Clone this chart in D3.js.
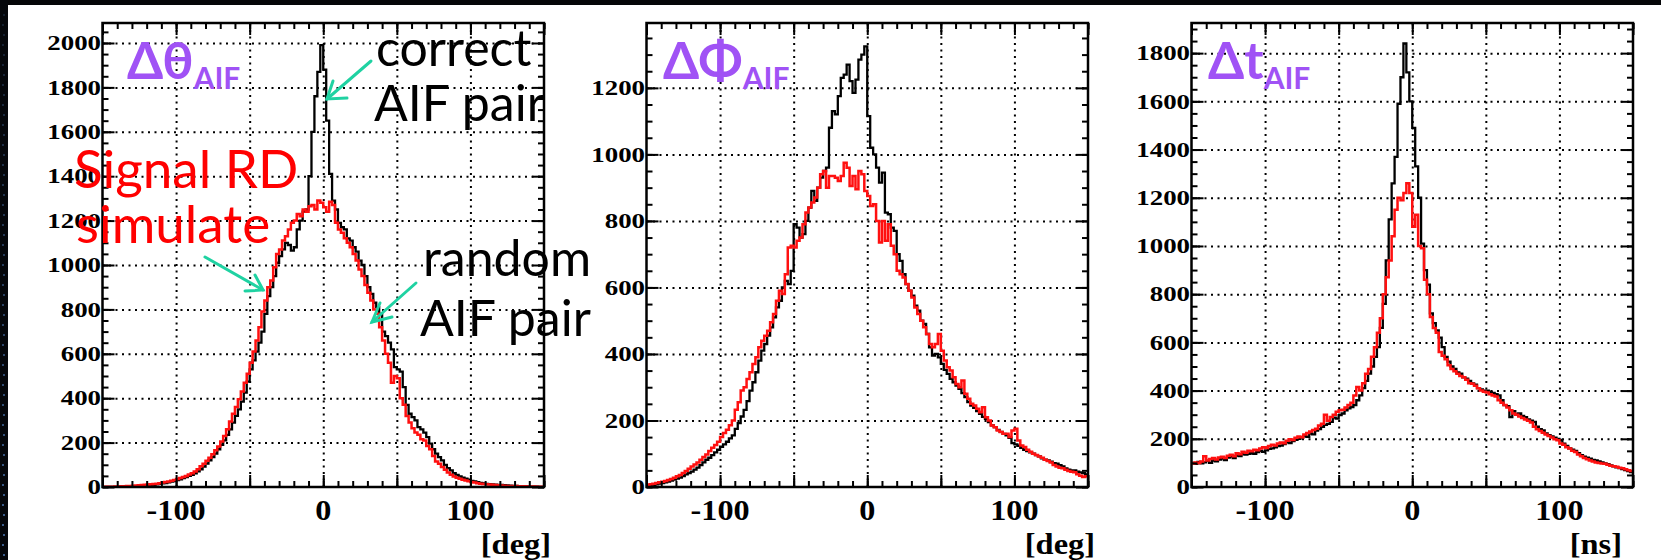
<!DOCTYPE html>
<html>
<head>
<meta charset="utf-8">
<script src="https://cdn.jsdelivr.net/npm/d3@7"></script>
<style>
  html, body { margin: 0; padding: 0; background: #fff; }
  svg { display: block; }
</style>
</head>
<body>
<svg id="chart" width="1661" height="560"></svg>
<script>
// ---- histogram binning: 150 bins of width 2 from -150 to 150 ----
const binStart = -150;
const binWidth = 2;

// Δθ (AIF pair opening angle in theta), counts per bin
const dthetaData = [
  0,0,0,1,1,1,2,2,3,3,
  4,4,5,6,7,8,9,10,12,14,
  16,18,21,24,27,31,35,40,45,50,
  55,62,70,80,92,105,120,135,150,170,
  190,210,235,260,290,320,350,385,425,475,
  530,570,610,650,700,780,860,900,950,1010,
  1040,1070,1100,1090,1065,1080,1160,1200,1240,1250,
  1400,1600,1760,1870,1990,1880,1650,1410,1290,1250,
  1190,1170,1160,1120,1110,1080,1060,1020,1000,950,
  900,870,830,810,780,700,680,650,620,540,
  530,520,450,370,330,315,300,270,260,245,
  225,195,170,150,135,120,100,85,75,62,
  55,48,42,38,33,28,25,22,19,16,
  14,13,12,11,10,9,8,7,6,5,
  5,4,4,3,3,2,2,2,1,1
];
const dthetaSim = [
  0,1,1,1,2,2,3,3,4,5,
  6,7,8,9,10,11,12,13,15,17,
  20,22,25,28,32,36,40,45,50,56,
  62,70,80,93,105,118,132,148,165,182,
  205,230,260,295,330,360,395,430,470,510,
  560,610,660,720,790,840,900,930,990,1050,
  1070,1110,1130,1160,1190,1200,1230,1220,1250,1240,
  1265,1270,1250,1290,1280,1260,1240,1285,1270,1190,
  1160,1145,1120,1100,1080,1050,1020,980,950,910,
  875,840,800,780,720,660,600,560,470,500,
  490,400,370,320,290,265,245,235,215,210,
  185,170,140,115,105,90,78,65,55,47,
  42,37,33,29,26,23,20,17,15,13,
  12,11,10,9,8,7,6,5,5,4,
  4,3,3,3,2,2,2,1,1,1
];

// ΔΦ
const dphiData = [
  3,5,6,8,10,12,14,16,19,22,
  25,28,33,38,42,46,52,58,66,74,
  82,88,96,104,112,121,128,136,146,155,
  175,192,212,232,258,290,315,345,380,410,
  430,455,480,510,540,560,600,620,610,650,
  790,780,750,760,800,840,890,860,900,930,
  950,960,1080,1130,1120,1175,1230,1240,1270,1220,
  1185,1225,1285,1300,1325,1115,1020,1000,960,915,
  945,825,820,780,770,700,680,640,610,590,
  575,545,530,500,490,460,420,395,400,390,
  370,352,340,325,315,305,295,282,270,255,
  245,238,228,220,211,205,195,185,180,172,
  166,160,155,148,132,128,124,118,112,108,
  104,100,96,92,86,82,80,76,72,70,
  66,62,56,52,50,50,46,44,42,38
];
const dphiSim = [
  5,8,10,12,14,16,18,21,24,28,
  32,36,42,48,55,62,68,74,82,90,
  98,108,118,126,136,150,162,172,186,200,
  232,255,290,300,325,345,370,390,420,440,
  455,470,495,520,560,590,580,640,720,725,
  720,740,750,790,825,840,855,870,900,940,
  950,900,935,935,930,920,935,975,960,905,
  935,895,950,940,890,875,845,850,800,735,
  800,740,790,725,700,650,640,630,610,590,
  570,540,520,500,480,460,430,420,430,460,
  410,380,360,350,330,310,300,320,280,265,
  250,245,235,225,240,210,200,185,180,170,
  165,160,160,150,170,175,140,125,120,112,
  106,100,96,92,88,82,78,74,66,62,
  58,56,52,48,46,44,38,34,30,32
];

// Δt
const dtData = [
  100,96,104,98,102,108,100,110,106,114,
  118,112,122,126,120,130,128,136,134,138,
  140,138,145,150,146,152,158,160,164,170,
  172,178,186,182,190,196,200,206,212,208,
  222,218,234,240,250,258,262,270,288,284,
  298,305,318,326,332,340,360,380,410,440,
  470,500,540,580,660,760,940,1110,1260,1370,
  1590,1700,1840,1720,1600,1490,1330,1200,1010,900,
  840,720,680,650,620,580,540,520,500,490,
  475,470,455,450,440,430,425,410,405,400,
  400,395,390,385,380,360,340,335,290,315,
  300,305,295,290,280,275,270,250,240,235,
  222,215,210,205,200,195,180,170,160,155,
  150,140,132,126,122,118,112,110,106,102,
  98,95,90,86,82,78,74,70,66,62
];
const dtSim = [
  98,102,100,106,128,110,116,120,114,122,
  126,120,130,134,128,140,136,146,142,150,
  148,155,152,160,165,162,170,175,172,180,
  185,182,192,198,195,204,210,206,218,224,
  230,236,242,255,262,300,275,290,300,312,
  318,320,330,340,350,380,415,400,430,470,
  490,540,580,640,700,800,870,940,1040,1150,
  1200,1190,1220,1260,1220,1080,1130,1000,990,860,
  800,705,660,640,560,545,530,505,490,480,
  470,460,455,445,430,428,420,410,400,395,
  392,385,380,375,360,350,340,330,318,305,
  300,292,286,280,275,268,250,240,232,225,
  218,212,205,198,194,180,175,165,160,150,
  145,135,128,120,115,110,106,102,100,98,
  96,92,88,86,84,80,78,74,70,66
];

// axis ticks and labels
const xRange = [-150, 150];
const xGridValues = [-100, -50, 0, 50, 100];
const xTickLabels = [-100, 0, 100];
const yTicksTheta = [0, 200, 400, 600, 800, 1000, 1200, 1400, 1600, 1800, 2000];
const yTicksPhi = [0, 200, 400, 600, 800, 1000, 1200];
const yTicksT = [0, 200, 400, 600, 800, 1000, 1200, 1400, 1600, 1800];
const yMaxTheta = 2090, yMaxPhi = 1395, yMaxT = 1925;
const unitLabels = ["[deg]", "[deg]", "[ns]"];
const titleMain = ["Δθ", "ΔΦ", "Δt"];
const titleSub = "AIF";

const svg = d3.select("#chart");

// slide background: white page with a dark band on top and a dark strip at the left
svg.append("rect").attr("width", 1661).attr("height", 560).attr("fill", "#fff");
svg.append("rect").attr("x", 0).attr("y", 0).attr("width", 1661).attr("height", 5).attr("fill", "#050608");
svg.append("rect").attr("x", 0).attr("y", 0).attr("width", 8).attr("height", 560).attr("fill", "#05070b");
const dotsG = svg.append("g");
d3.range(14, 560, 10).forEach((yy, i) => {
  dotsG.append("rect").attr("x", i % 2 ? 2 : 3).attr("y", yy).attr("width", 2).attr("height", 2)
    .attr("fill", "#3d5f8f").attr("opacity", Math.min(1, 0.25 + yy / 700));
});

const FRAME_TOP = 23, FRAME_BOTTOM = 487, FRAME_W = 441.5;

const panels = [
  { left: 102.5, ymax: yMaxTheta, yTicks: yTicksTheta, data: dthetaData, sim: dthetaSim,
    unit: unitLabels[0], unitRight: 551, title: titleMain[0], titleX: 127 },
  { left: 646.5, ymax: yMaxPhi, yTicks: yTicksPhi, data: dphiData, sim: dphiSim,
    unit: unitLabels[1], unitRight: 1095, title: titleMain[1], titleX: 663 },
  { left: 1191.5, ymax: yMaxT, yTicks: yTicksT, data: dtData, sim: dtSim,
    unit: unitLabels[2], unitRight: 1622, title: titleMain[2], titleX: 1208 }
];

function stepPoints(vals) {
  const pts = [];
  vals.forEach((v, i) => {
    const a = binStart + i * binWidth;
    pts.push([a, v], [a + binWidth, v]);
  });
  return pts;
}

const serif = "'Liberation Serif', 'Times New Roman', serif";
const sans = "Lato, 'Noto Sans', 'Open Sans', sans-serif";

panels.forEach((p, idx) => {
  const x = d3.scaleLinear().domain(xRange).range([p.left, p.left + FRAME_W]);
  const y = d3.scaleLinear().domain([0, p.ymax]).range([FRAME_BOTTOM, FRAME_TOP]);
  const g = svg.append("g");
  const W = FRAME_W, H = FRAME_BOTTOM - FRAME_TOP;

  // dotted grid
  const gridX = g.append("g").attr("transform", `translate(0,${FRAME_BOTTOM})`)
    .call(d3.axisBottom(x).tickValues(xGridValues).tickSize(-H).tickFormat(""));
  const gridY = g.append("g").attr("transform", `translate(${p.left},0)`)
    .call(d3.axisLeft(y).tickValues(p.yTicks.filter(v => v > 0)).tickSize(-W).tickFormat(""));
  [gridX, gridY].forEach(a => {
    a.select(".domain").remove();
    a.selectAll("line").attr("stroke", "#000").attr("stroke-width", 2).attr("stroke-dasharray", "2,4.5");
  });

  // histograms
  const clipId = "clip" + idx;
  svg.append("clipPath").attr("id", clipId).append("rect")
    .attr("x", p.left).attr("y", FRAME_TOP).attr("width", W).attr("height", H);
  const line = d3.line().x(d => x(d[0])).y(d => y(d[1]));
  const hg = g.append("g").attr("clip-path", `url(#${clipId})`);
  hg.append("path").attr("d", line(stepPoints(p.data))).attr("fill", "none")
    .attr("stroke", "#000").attr("stroke-width", 2.3).attr("stroke-linejoin", "miter");
  hg.append("path").attr("d", line(stepPoints(p.sim))).attr("fill", "none")
    .attr("stroke", "#ff1010").attr("stroke-width", 2.5).attr("stroke-linejoin", "miter");

  // inward ticks on all four sides
  const xMinor = d3.range(-150, 151, 10);
  const xMajor = d3.range(-150, 151, 50);
  const yMinor = d3.range(0, p.ymax, 50);
  const yMajor = p.yTicks;
  const tickAxes = [
    g.append("g").attr("transform", `translate(0,${FRAME_BOTTOM})`).call(d3.axisBottom(x).tickValues(xMinor).tickSize(-6).tickFormat("")),
    g.append("g").attr("transform", `translate(0,${FRAME_BOTTOM})`).call(d3.axisBottom(x).tickValues(xMajor).tickSize(-12).tickFormat("")),
    g.append("g").attr("transform", `translate(0,${FRAME_TOP})`).call(d3.axisTop(x).tickValues(xMinor).tickSize(-6).tickFormat("")),
    g.append("g").attr("transform", `translate(0,${FRAME_TOP})`).call(d3.axisTop(x).tickValues(xMajor).tickSize(-12).tickFormat("")),
    g.append("g").attr("transform", `translate(${p.left},0)`).call(d3.axisLeft(y).tickValues(yMinor).tickSize(-6).tickFormat("")),
    g.append("g").attr("transform", `translate(${p.left},0)`).call(d3.axisLeft(y).tickValues(yMajor).tickSize(-12).tickFormat("")),
    g.append("g").attr("transform", `translate(${p.left + W},0)`).call(d3.axisRight(y).tickValues(yMinor).tickSize(-6).tickFormat("")),
    g.append("g").attr("transform", `translate(${p.left + W},0)`).call(d3.axisRight(y).tickValues(yMajor).tickSize(-12).tickFormat(""))
  ];
  tickAxes.forEach(a => {
    a.select(".domain").remove();
    a.selectAll("line").attr("stroke", "#000").attr("stroke-width", 2);
  });

  // frame
  g.append("rect").attr("x", p.left).attr("y", FRAME_TOP).attr("width", W).attr("height", H)
    .attr("fill", "none").attr("stroke", "#000").attr("stroke-width", 2.5);

  // x tick labels
  xTickLabels.forEach(v => {
    g.append("text").attr("transform", `translate(${x(v)},519.5) scale(1.13,1)`)
      .attr("text-anchor", "middle").attr("font-family", serif).attr("font-weight", "bold")
      .attr("font-size", 28.5).attr("fill", "#000").text(v);
  });
  // y tick labels
  yMajor.forEach(v => {
    g.append("text").attr("transform", `translate(${p.left - 1.5},${y(v) + 7.3}) scale(1.25,1)`)
      .attr("text-anchor", "end").attr("font-family", serif).attr("font-weight", "bold")
      .attr("font-size", 21.5).attr("fill", "#000").text(v);
  });
  // unit label
  g.append("text").attr("transform", `translate(${p.unitRight},554) scale(1.08,1)`)
    .attr("text-anchor", "end").attr("font-family", serif).attr("font-weight", "bold")
    .attr("font-size", 30).attr("fill", "#000").text(p.unit);

  // panel title
  const t = g.append("text").attr("x", p.titleX).attr("y", 79)
    .attr("font-family", sans).attr("font-weight", "bold").attr("fill", "#a052f5")
    .attr("font-size", 52).text(p.title);
  t.append("tspan").attr("dy", 10).attr("font-size", 30).text(titleSub);
});

// annotations on the first panel
const ann = svg.append("g");
const annText = (x0, y0, s, color, size) => ann.append("text").attr("x", x0).attr("y", y0)
  .attr("font-family", sans).attr("font-size", size).attr("fill", color).text(s);
annText(376, 66, "correct", "#000", 50);
annText(374, 121, "AIF pair", "#000", 50);
annText(423, 276, "random", "#000", 50);
annText(420, 336, "AIF pair", "#000", 50);
annText(74, 188, "Signal RD", "#ff0000", 53);
annText(76, 243, "simulate", "#ff0000", 53);

// green arrows with open heads
const arrowColor = "#1fd2a2";
const arrows = [
  { from: [371, 61], to: [327, 99], h1: [333, 81], h2: [347, 98] },
  { from: [205, 257], to: [263, 290], h1: [255, 275], h2: [245, 291] },
  { from: [416, 283], to: [372, 322], h1: [380, 303], h2: [392, 317] }
];
arrows.forEach(a => {
  const pg = ann.append("g").attr("stroke", arrowColor).attr("stroke-width", 3).attr("fill", "none")
    .attr("stroke-linecap", "round");
  pg.append("line").attr("x1", a.from[0]).attr("y1", a.from[1]).attr("x2", a.to[0]).attr("y2", a.to[1]);
  pg.append("polyline").attr("points", [a.h1, a.to, a.h2].map(q => q.join(",")).join(" "));
});
</script>
</body>
</html>
